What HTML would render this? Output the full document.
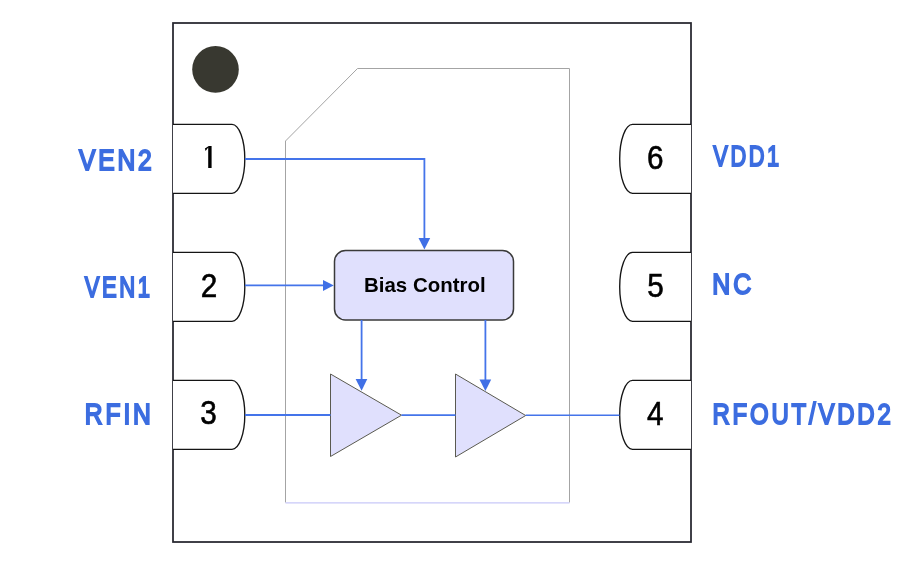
<!DOCTYPE html>
<html><head><meta charset="utf-8">
<style>
html,body{margin:0;padding:0;background:#fff;width:910px;height:564px;overflow:hidden}
svg{display:block;will-change:transform}
text{font-family:"Liberation Sans",sans-serif}
</style></head>
<body>
<svg width="910" height="564" viewBox="0 0 910 564">
<!-- main package -->
<rect x="173" y="23" width="518" height="519" fill="#fff" stroke="#26262e" stroke-width="1.75"/>
<circle cx="215.5" cy="69.4" r="23.3" fill="#383830"/>
<!-- inner die outline -->
<path d="M285.5,502.5 V141 L357.5,68.5 H569.5 V502.5" fill="none" stroke="#a4a4a4" stroke-width="1"/>
<path d="M285.5,502.9 H569.5" fill="none" stroke="#c8c8f8" stroke-width="1.2"/>
<!-- left pins -->
<g fill="#fff" stroke="#141414" stroke-width="1.35">
<path d="M173,124.4 H232 A12.8,34.5 0 0 1 244.8,158.9 A12.8,34.5 0 0 1 232,193.3 H173"/>
<path d="M173,252.4 H232 A12.8,34.5 0 0 1 244.8,286.9 A12.8,34.5 0 0 1 232,321.3 H173"/>
<path d="M173,380.4 H232 A12.8,34.5 0 0 1 244.8,414.9 A12.8,34.5 0 0 1 232,449.3 H173"/>
<path d="M691,124.4 H632.5 A12.8,34.5 0 0 0 619.7,158.9 A12.8,34.5 0 0 0 632.5,193.3 H691"/>
<path d="M691,252.4 H632.5 A12.8,34.5 0 0 0 619.7,286.9 A12.8,34.5 0 0 0 632.5,321.3 H691"/>
<path d="M691,380.4 H632.5 A12.8,34.5 0 0 0 619.7,414.9 A12.8,34.5 0 0 0 632.5,449.3 H691"/>
</g>
<!-- pin numbers -->
<path d="M208.2,168 V147.5 L205.6,151 L204.9,148.6 L208.8,145.9 H211.6 V168 Z" fill="#000"/>
<g font-size="33" fill="#000" text-anchor="middle" stroke="#000" stroke-width="0.6">
<text transform="translate(209,296.7) scale(0.9,1)">2</text>
<text transform="translate(208.5,424) scale(0.9,1)">3</text>
<text transform="translate(655.2,168.6) scale(0.9,1)">6</text>
<text transform="translate(655.4,296.7) scale(0.9,1)">5</text>
<text transform="translate(655.3,424.6) scale(0.9,1)">4</text>
</g>
<!-- labels -->
<g font-size="29.8" fill="#3c6de0" stroke="#3c6de0" stroke-width="2" letter-spacing="3.5">
<text x="78.90" y="169.5" textLength="75.80" lengthAdjust="spacingAndGlyphs">VEN2</text>
<text x="84.80" y="297.4" textLength="67.90" lengthAdjust="spacingAndGlyphs">VEN1</text>
<text x="84.80" y="423.5" textLength="69.00" lengthAdjust="spacingAndGlyphs">RFIN</text>
<text x="713.30" y="165.5" textLength="68.40" lengthAdjust="spacingAndGlyphs">VDD1</text>
<text x="712.30" y="293.5" textLength="41.80" lengthAdjust="spacingAndGlyphs">NC</text>
<text x="712.40" y="424.0" textLength="181.20" lengthAdjust="spacingAndGlyphs">RFOUT/VDD2</text>
</g>
<!-- bias control -->
<rect x="334.5" y="250.5" width="179" height="69.5" rx="11" ry="11" fill="#e0e0fd" stroke="#3a3a3a" stroke-width="1.5"/>
<text x="364" y="292.1" font-size="21" font-weight="bold" fill="#000" textLength="121.6" lengthAdjust="spacingAndGlyphs">Bias Control</text>
<!-- amplifiers -->
<g fill="#e0e0fd" stroke="#5a5a50" stroke-width="1">
<path d="M330.5,374 V456.5 L401.5,415.2 Z"/>
<path d="M455.5,374 V457 L525.7,415.5 Z"/>
</g>
<!-- blue wires -->
<g stroke="#4474ea" stroke-width="1.8" fill="none">
<path d="M245,159 H424.4 V240"/>
<path d="M245,285.4 H325"/>
<path d="M361.6,320 V381"/>
<path d="M485.4,320 V381"/>
<path d="M245,415 H330.5"/>
<path d="M401.5,415.2 H455.5"/>
<path d="M525.7,415.2 H619.5" stroke-width="1.4"/>
</g>
<g fill="#4070e6">
<path d="M418.5,238.1 H430.2 L424.4,249.5 Z"/>
<path d="M323,279.9 V290.9 L333.8,285.4 Z"/>
<path d="M355.6,379.1 H367.3 L361.6,390.8 Z"/>
<path d="M479.5,379.5 H491.2 L485.4,391 Z"/>
</g>
</svg>
</body></html>
